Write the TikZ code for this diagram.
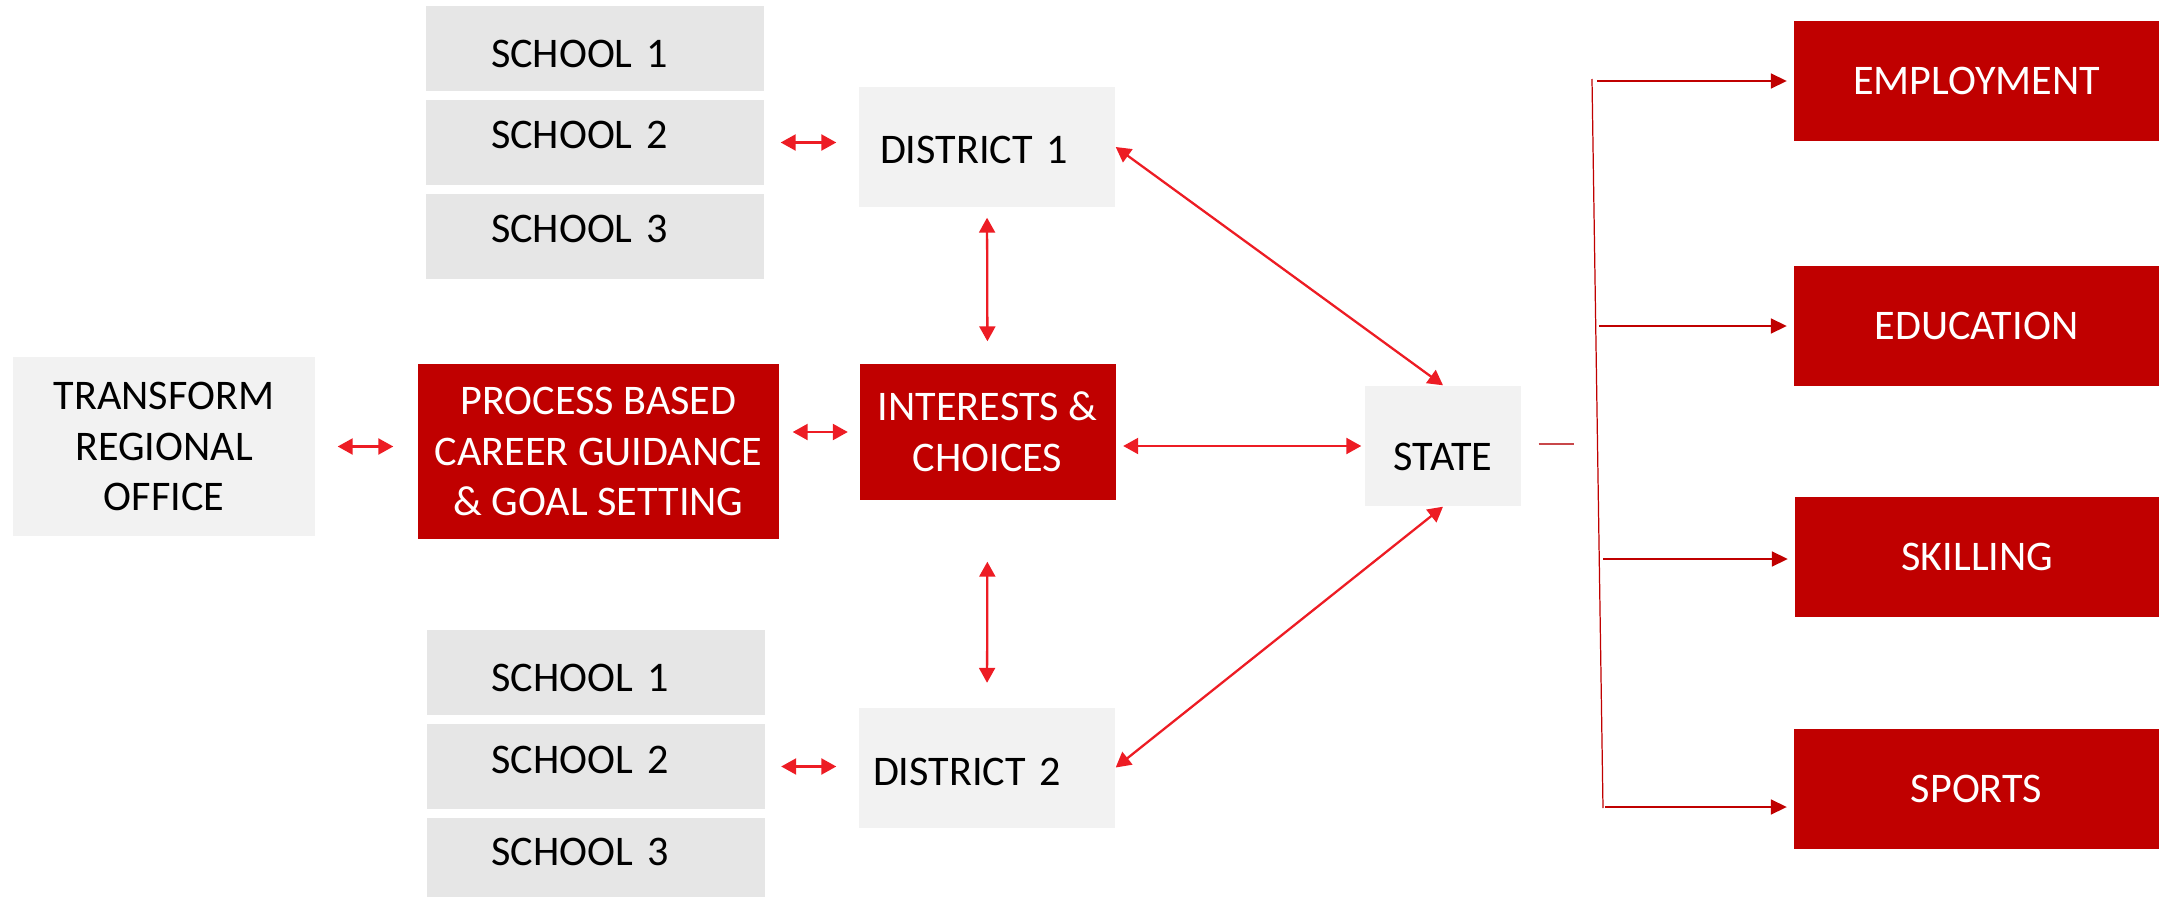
\documentclass[tikz,border=0pt]{standalone}
\usepackage{fontspec}
\setmainfont{Carlito}
\usepackage{tikz}
\usetikzlibrary{arrows.meta,positioning}

\definecolor{boxred}{HTML}{C00000}
\definecolor{arrred}{HTML}{ED1C24}
\definecolor{lightbox}{HTML}{F2F2F2}
\definecolor{schoolgray}{HTML}{E6E6E6}
\definecolor{stubred}{HTML}{C8474A}

\begin{document}
\begin{tikzpicture}[
    x=0.1mm, y=-0.1mm,
    font=\fontsize{12}{14.4}\selectfont,
    node distance=0.08cm,
    school/.style={rectangle, fill=schoolgray, minimum width=3.38cm, minimum height=0.85cm, text width=2.08cm, inner xsep=0.65cm, inner ysep=0pt, align=left},
    grey/.style={rectangle, fill=lightbox, inner sep=0pt, align=center},
    redbox/.style={rectangle, fill=boxred, text=white, inner sep=0pt, align=center},
    district/.style={rectangle, fill=lightbox, text width=2.14cm, inner xsep=0.21cm, inner ysep=0pt, minimum height=1.2cm, align=left},
    outbox/.style={redbox, minimum width=3.66cm, minimum height=1.2cm},
    biarrow/.style={{Triangle[length=0.15cm,width=0.16cm]}-{Triangle[length=0.15cm,width=0.16cm]}, arrred, line width=0.65pt},
    outarrow/.style={-{Triangle[length=0.16cm,width=0.15cm]}, boxred, line width=0.5pt}
]
\useasboundingbox (0,0) rectangle (2159,897);

% Main flow
\node[grey, minimum width=3.02cm, minimum height=1.79cm] (office) at (164,446.5) {TRANSFORM\\REGIONAL\\OFFICE};
\node[redbox, minimum width=3.61cm, minimum height=1.75cm] (guide) at (598.5,451.5) {PROCESS BASED\\CAREER GUIDANCE\\\& GOAL SETTING};
\node[redbox, minimum width=2.56cm, minimum height=1.36cm] (choice) at (987.5,432) {INTERESTS \&\\CHOICES};
\node[district, text height=0.33cm] (dist1) at (987,147) {DISTRICT 1};
\node[district, text height=0.36cm, text width=2.28cm, inner xsep=0.14cm] (dist2) at (987,767.5) {DISTRICT 2};
\node[grey, minimum width=1.56cm, minimum height=1.2cm, text height=0.49cm] (state) at (1443,446) {STATE};

% Schools
\node[school, text depth=0.15cm] (top2) at (595,142.5) {SCHOOL 2};
\node[school, text height=0.39cm, above=of top2] (top1) {SCHOOL 1};
\node[school, text depth=0.17cm, below=of top2] (top3) {SCHOOL 3};
\node[school, text depth=0.14cm] (bot2) at (595.5,766.5) {SCHOOL 2};
\node[school, text height=0.39cm, above=of bot2] (bot1) {SCHOOL 1};
\node[school, text depth=0.19cm, below=of bot2] (bot3) {SCHOOL 3};

% Outcomes
\node[outbox] (employ) at (1976.5,81) {EMPLOYMENT};
\node[outbox] (educ) at (1976.5,326) {EDUCATION};
\node[outbox] (skill) at (1977.5,557) {SKILLING};
\node[outbox] (sport) at (1976.5,789) {SPORTS};

% Arrows
\draw[biarrow, shorten <=0.16cm, shorten >=0.22cm] (top2.east) -- (top2.east -| dist1.west);
\draw[biarrow, shorten <=0.16cm, shorten >=0.22cm] (bot2.east) -- (bot2.east -| dist2.west);
\draw[biarrow, shorten <=0.22cm, shorten >=0.24cm] (office.east) -- (office.east -| guide.west);
\draw[biarrow, shorten <=0.13cm, shorten >=0.11cm] (guide.east |- choice.west) -- (choice.west);
\draw[biarrow, shorten <=0.10cm, shorten >=0.22cm] (dist1.south) -- (choice.north);
\draw[biarrow, shorten <=0.61cm, shorten >=0.24cm] (choice.south) -- (dist2.north);
\draw[biarrow, shorten <=0.07cm, shorten >=0.03cm] (choice.east |- state.west) -- (state.west);
\draw[biarrow] (dist1.east) -- (state.north);
\draw[biarrow] (state.south) -- (dist2.east);

% Branch to outcomes
\coordinate (stub) at (1574,444);
\draw[stubred, line width=0.35pt, shorten <=0.17cm] (state.east |- stub) -- (stub);
\coordinate (bustop) at (1592,79);
\coordinate (busbot) at (1603,808);
\draw[boxred, line width=0.35pt] (bustop) -- (busbot);
\coordinate (b1) at (1597,81);
\coordinate (b2) at (1599,326);
\coordinate (b3) at (1603,559);
\coordinate (b4) at (1605,807);
\foreach \src/\dst in {b1/employ, b2/educ, b3/skill, b4/sport}
  \draw[outarrow, shorten >=0.06cm] (\src) -- (\src -| \dst.west);
\end{tikzpicture}
\end{document}
